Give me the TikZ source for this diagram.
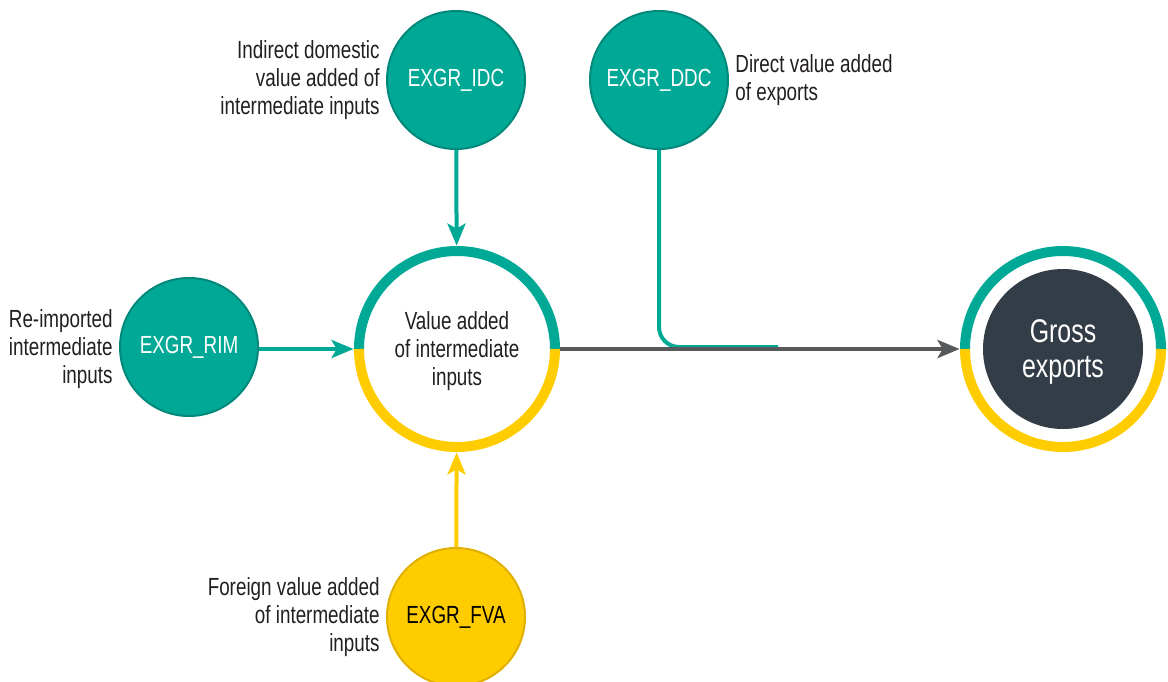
\documentclass[tikz,border=0pt]{standalone}
\usepackage{fontspec}
\setmainfont{Liberation Sans}[FakeStretch=0.76]
\usetikzlibrary{arrows.meta}
\definecolor{vteal}{HTML}{00A896}
\definecolor{vtealedge}{HTML}{00897B}
\definecolor{vyellow}{HTML}{FFCC00}
\definecolor{vyellowedge}{HTML}{E0B000}
\definecolor{vdark}{HTML}{333D47}
\definecolor{vgrey}{HTML}{58595B}
\definecolor{vtext}{HTML}{231F20}
\tikzset{
  comp/.style={circle,fill=vteal,draw=vtealedge,line width=1pt,minimum size=69pt,inner sep=0pt,
    text=white,font=\fontsize{12.4}{14}\selectfont},
  compy/.style={comp,fill=vyellow,draw=vyellowedge,text=black},
  lbl/.style={text=vtext,inner sep=0pt,font=\fontsize{12.4}{13.8}\selectfont},
  hub/.style={circle,minimum size=103pt,inner sep=0pt,align=center,text=vtext,font=\fontsize{12.4}{13.8}\selectfont},
  tealarr/.style={vteal,line width=2pt,-{Stealth[length=11pt,width=9pt,inset=2.5pt]}},
  yelarr/.style={tealarr,vyellow},
  greyarr/.style={vgrey,line width=2.2pt,-{Stealth[length=11pt,width=9pt,inset=2.5pt]}},
  ringtop/.style={vteal,line width=5pt},
  ringbot/.style={vyellow,line width=5pt}
}
\begin{document}
\begin{tikzpicture}[x=0.5pt,y=-0.5pt]
  \useasboundingbox (0,0) rectangle (1168,681);
  % hubs
  \node[hub] (va) at (457,349) {};
  \node[hub] (vatext) at (457,351) {Value added\\of intermediate\\inputs};
  \node[hub] (gering) at (1063,349) {};
  \node[circle,fill=vdark,minimum size=80pt,inner sep=0pt] (ge) at (1063,349) {};
  \node[align=center,text=white,inner sep=0pt,font=\fontsize{16.4}{17.5}\selectfont] (getext) at (1063,352) {Gross\\exports};
  \foreach \h in {va,gering}{
    \draw[ringtop] ([xshift=49pt]\h.center) arc[start angle=0,end angle=180,radius=49pt];
    \draw[ringbot] ([xshift=-49pt]\h.center) arc[start angle=180,end angle=360,radius=49pt];
  }
  % components
  \node[comp] (idc) at (456,80) {EXGR\_IDC};
  \node[comp] (ddc) at (659,80) {EXGR\_DDC};
  \node[comp] (rim) at (189,347) {EXGR\_RIM};
  \node[compy] (fva) at (456,617) {EXGR\_FVA};
  \node[lbl,anchor=east,align=right] (idcl) at (380,80) {Indirect domestic\\value added of\\intermediate inputs};
  \node[lbl,anchor=west,align=left] (ddcl) at (735,80) {Direct value added\\of exports};
  \node[lbl,anchor=east,align=right] (riml) at (113,349) {Re-imported\\intermediate\\inputs};
  \node[lbl,anchor=east,align=right] (fval) at (380,617) {Foreign value added\\of intermediate\\inputs};
  % links
  \coordinate (ddcend) at (778,347);
  \draw[vteal,line width=2pt,rounded corners=10pt] (ddc.south) |- (ddcend);
  \draw[greyarr] (va) -- (gering);
  \draw[tealarr] (idc) -- (va);
  \draw[tealarr] (rim.east |- va) -- (va);
  \draw[yelarr] (fva) -- (va);
\end{tikzpicture}
\end{document}
